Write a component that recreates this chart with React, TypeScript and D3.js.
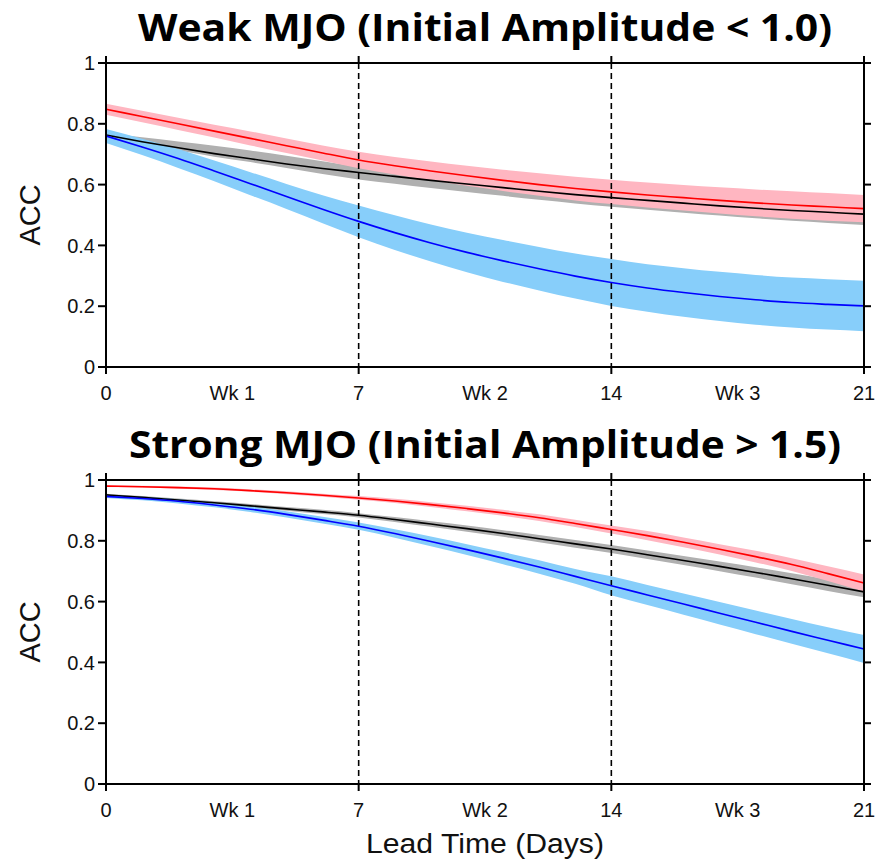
import React from 'react';
import * as d3 from 'd3';

// lead time (days)
const leadDays = [0, 1, 2, 3, 4, 5, 6, 7, 8, 9, 10, 11, 12, 13, 14, 15, 16, 17, 18, 19, 20, 21];

// weak MJO panel
const weakRed = [0.848, 0.824, 0.8, 0.776, 0.752, 0.728, 0.704, 0.681, 0.662, 0.645, 0.629, 0.614, 0.6, 0.587, 0.576, 0.566, 0.557, 0.548, 0.54, 0.533, 0.527, 0.521];
const weakRedLo = [0.83, 0.805, 0.78, 0.755, 0.729, 0.704, 0.679, 0.654, 0.633, 0.614, 0.596, 0.579, 0.563, 0.548, 0.536, 0.525, 0.515, 0.505, 0.496, 0.488, 0.481, 0.476];
const weakRedHi = [0.866, 0.843, 0.82, 0.797, 0.775, 0.752, 0.729, 0.708, 0.691, 0.676, 0.662, 0.649, 0.637, 0.626, 0.616, 0.607, 0.599, 0.591, 0.584, 0.578, 0.572, 0.566];
const weakBlack = [0.763, 0.741, 0.721, 0.702, 0.685, 0.668, 0.653, 0.64, 0.627, 0.614, 0.602, 0.59, 0.578, 0.567, 0.557, 0.548, 0.539, 0.53, 0.522, 0.515, 0.509, 0.503];
const weakBlackLo = [0.758, 0.734, 0.712, 0.692, 0.674, 0.655, 0.635, 0.617, 0.603, 0.589, 0.576, 0.563, 0.55, 0.538, 0.527, 0.517, 0.507, 0.498, 0.489, 0.481, 0.474, 0.467];
const weakBlackHi = [0.768, 0.756, 0.742, 0.728, 0.712, 0.695, 0.677, 0.659, 0.647, 0.636, 0.626, 0.616, 0.606, 0.596, 0.587, 0.578, 0.569, 0.561, 0.553, 0.546, 0.539, 0.533];
const weakBlue = [0.76, 0.724, 0.686, 0.645, 0.603, 0.561, 0.519, 0.479, 0.442, 0.408, 0.377, 0.349, 0.323, 0.299, 0.278, 0.26, 0.245, 0.232, 0.221, 0.212, 0.206, 0.201];
const weakBlueLo = [0.737, 0.697, 0.655, 0.611, 0.565, 0.52, 0.473, 0.427, 0.385, 0.347, 0.312, 0.28, 0.252, 0.225, 0.201, 0.182, 0.165, 0.151, 0.139, 0.13, 0.123, 0.118];
const weakBlueHi = [0.783, 0.751, 0.717, 0.679, 0.641, 0.602, 0.565, 0.531, 0.499, 0.469, 0.442, 0.418, 0.395, 0.373, 0.355, 0.338, 0.325, 0.313, 0.303, 0.294, 0.289, 0.284];

// strong MJO panel
const strongRed = [0.98, 0.978, 0.975, 0.971, 0.965, 0.958, 0.95, 0.941, 0.931, 0.919, 0.906, 0.892, 0.876, 0.857, 0.837, 0.817, 0.795, 0.772, 0.748, 0.722, 0.692, 0.661];
const strongRedLo = [0.977, 0.975, 0.971, 0.967, 0.961, 0.953, 0.945, 0.935, 0.924, 0.911, 0.897, 0.882, 0.865, 0.845, 0.824, 0.802, 0.779, 0.755, 0.729, 0.701, 0.668, 0.633];
const strongRedHi = [0.983, 0.981, 0.979, 0.975, 0.969, 0.963, 0.955, 0.947, 0.938, 0.927, 0.915, 0.902, 0.887, 0.869, 0.85, 0.832, 0.811, 0.789, 0.767, 0.743, 0.716, 0.689];
const strongBlack = [0.951, 0.943, 0.934, 0.925, 0.915, 0.905, 0.895, 0.884, 0.87, 0.855, 0.84, 0.824, 0.807, 0.79, 0.773, 0.754, 0.735, 0.716, 0.696, 0.675, 0.654, 0.632];
const strongBlackLo = [0.947, 0.939, 0.929, 0.92, 0.909, 0.899, 0.888, 0.877, 0.862, 0.846, 0.83, 0.813, 0.795, 0.777, 0.76, 0.74, 0.72, 0.7, 0.679, 0.657, 0.635, 0.614];
const strongBlackHi = [0.955, 0.947, 0.939, 0.93, 0.921, 0.911, 0.902, 0.891, 0.878, 0.864, 0.85, 0.835, 0.819, 0.803, 0.786, 0.768, 0.75, 0.732, 0.713, 0.693, 0.673, 0.65];
const strongBlue = [0.946, 0.939, 0.93, 0.918, 0.904, 0.887, 0.868, 0.848, 0.824, 0.798, 0.771, 0.743, 0.714, 0.683, 0.652, 0.622, 0.592, 0.562, 0.532, 0.502, 0.473, 0.444];
const strongBlueLo = [0.941, 0.933, 0.923, 0.91, 0.895, 0.877, 0.857, 0.836, 0.81, 0.782, 0.753, 0.723, 0.692, 0.659, 0.621, 0.589, 0.557, 0.525, 0.493, 0.461, 0.43, 0.398];
const strongBlueHi = [0.951, 0.945, 0.937, 0.926, 0.913, 0.897, 0.879, 0.86, 0.838, 0.814, 0.789, 0.763, 0.736, 0.707, 0.683, 0.655, 0.627, 0.599, 0.571, 0.543, 0.516, 0.49];

const yTicks = [0, 0.2, 0.4, 0.6, 0.8, 1];
const dayTicks = [0, 7, 14, 21];
const weekLabels = ['Wk 1', 'Wk 2', 'Wk 3'];
const weekCenters = [3.5, 10.5, 17.5];

const W = 875;
const H = 864;
const left = 106;
const right = 864;
const sans = 'Liberation Sans, Arial, Helvetica, sans-serif';

type Band = { mean: number[]; lo: number[]; hi: number[]; line: string; fill: string };

const Panel = ({ top, title, titleWidth, bands }: { top: number; title: string; titleWidth: number; bands: Band[] }) => {
  const bottom = top + 304;
  const x = d3.scaleLinear().domain([0, 21]).range([left, right]);
  const y = d3.scaleLinear().domain([0, 1]).range([bottom, top]);

  const area = (lo: number[], hi: number[]) =>
    d3
      .area<number>()
      .x((d) => x(d))
      .y0((_, i) => y(lo[i]))
      .y1((_, i) => y(hi[i]))
      .curve(d3.curveMonotoneX)(leadDays) || '';

  const line = (vals: number[]) =>
    d3
      .line<number>()
      .x((d) => x(d))
      .y((_, i) => y(vals[i]))
      .curve(d3.curveMonotoneX)(leadDays) || '';

  return (
    <g>
      <text
        x={(left + right) / 2}
        y={top - 22}
        textAnchor="middle"
        fontFamily="Open Sans, Noto Sans, sans-serif"
        fontWeight="bold"
        fontSize={38}
        textLength={titleWidth}
        lengthAdjust="spacingAndGlyphs"
      >
        {title}
      </text>

      {bands.map((b, i) => (
        <path key={'band' + i} d={area(b.lo, b.hi)} fill={b.fill} stroke="none" />
      ))}

      {[7, 14].map((d) => (
        <line key={'dash' + d} x1={x(d)} x2={x(d)} y1={top} y2={bottom} stroke="#000" strokeWidth={1.6} strokeDasharray="6,4" />
      ))}

      {bands.map((b, i) => (
        <path key={'line' + i} d={line(b.mean)} fill="none" stroke={b.line} strokeWidth={1.6} />
      ))}

      <rect x={left} y={top} width={right - left} height={bottom - top} fill="none" stroke="#000" strokeWidth={2} />

      {yTicks.map((t) => (
        <g key={'y' + t}>
          <line x1={left - 8} x2={left} y1={y(t)} y2={y(t)} stroke="#000" strokeWidth={2} />
          <line x1={right} x2={right + 7} y1={y(t)} y2={y(t)} stroke="#000" strokeWidth={2} />
          <text x={left - 11} y={y(t)} dy="0.36em" textAnchor="end" fontFamily={sans} fontSize={20} fill="#111">
            {d3.format('~g')(t)}
          </text>
        </g>
      ))}

      {dayTicks.map((d) => (
        <g key={'x' + d}>
          <line x1={x(d)} x2={x(d)} y1={bottom} y2={bottom + 7} stroke="#000" strokeWidth={2} />
          <line x1={x(d)} x2={x(d)} y1={top - 7} y2={top} stroke="#000" strokeWidth={2} />
          <text x={x(d)} y={bottom + 33} textAnchor="middle" fontFamily={sans} fontSize={20} fill="#111">
            {d}
          </text>
        </g>
      ))}

      {weekLabels.map((w, i) => (
        <text key={w} x={x(weekCenters[i])} y={bottom + 33} textAnchor="middle" fontFamily={sans} fontSize={20} fill="#111">
          {w}
        </text>
      ))}

      <text
        transform={`translate(40,${(top + bottom) / 2}) rotate(-90)`}
        textAnchor="middle"
        fontFamily={sans}
        fontSize={29}
        fill="#111"
      >
        ACC
      </text>
    </g>
  );
};

const App = () => {
  const weakBands: Band[] = [
    { mean: weakBlack, lo: weakBlackLo, hi: weakBlackHi, line: '#000000', fill: '#b0b0b0' },
    { mean: weakRed, lo: weakRedLo, hi: weakRedHi, line: '#ff0000', fill: '#ffb6c1' },
    { mean: weakBlue, lo: weakBlueLo, hi: weakBlueHi, line: '#0000ff', fill: '#87cefa' },
  ];
  const strongBands: Band[] = [
    { mean: strongBlack, lo: strongBlackLo, hi: strongBlackHi, line: '#000000', fill: '#b0b0b0' },
    { mean: strongRed, lo: strongRedLo, hi: strongRedHi, line: '#ff0000', fill: '#ffb6c1' },
    { mean: strongBlue, lo: strongBlueLo, hi: strongBlueHi, line: '#0000ff', fill: '#87cefa' },
  ];

  return (
    <svg width={W} height={H} style={{ position: 'absolute', left: 0, top: 0, background: '#fff' }}>
      <Panel top={63} title="Weak MJO (Initial Amplitude < 1.0)" titleWidth={694} bands={weakBands} />
      <Panel top={480} title="Strong MJO (Initial Amplitude > 1.5)" titleWidth={712} bands={strongBands} />
      <text x={(left + right) / 2} y={853} textAnchor="middle" fontFamily={sans} fontSize={27} fill="#111" textLength={238} lengthAdjust="spacingAndGlyphs">
        Lead Time (Days)
      </text>
    </svg>
  );
};

export default App;
